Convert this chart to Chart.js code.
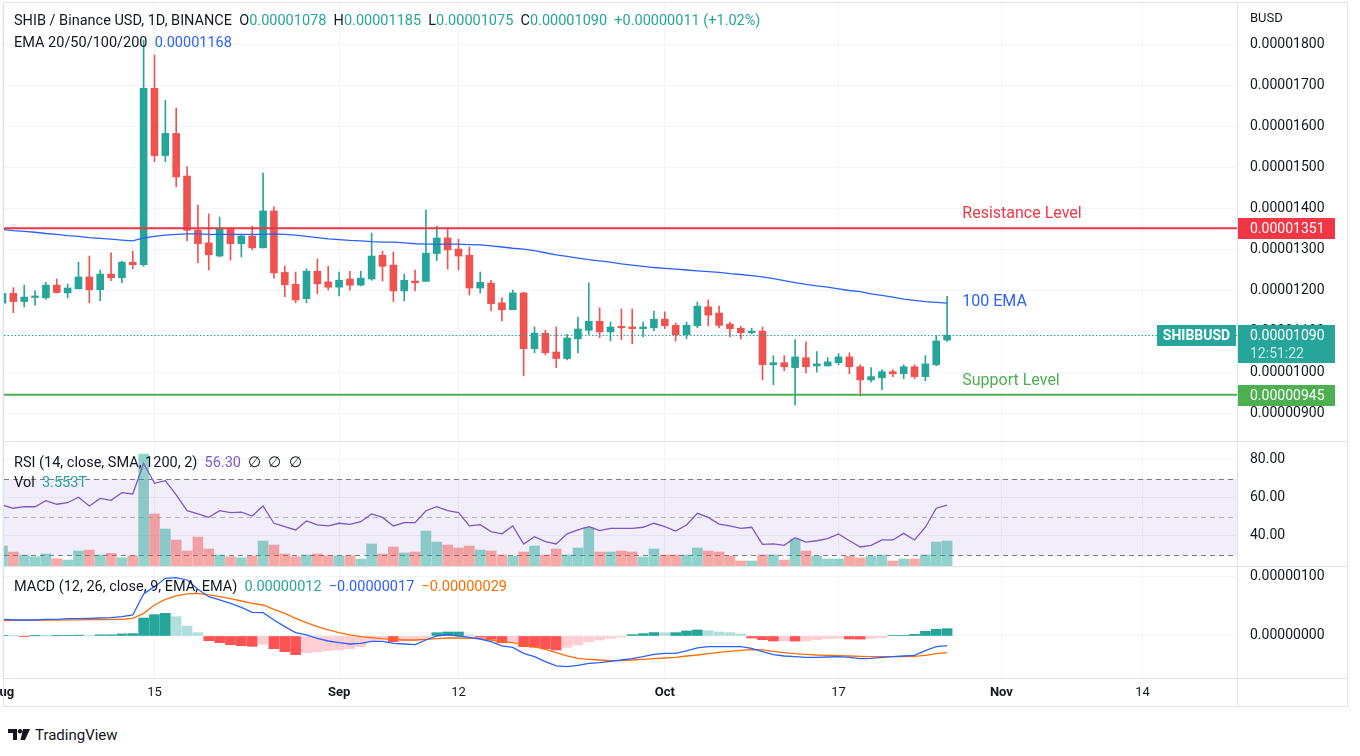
<!DOCTYPE html>
<html>
<head>
<meta charset="utf-8">
<title>SHIB / Binance USD</title>
<script src="https://cdn.jsdelivr.net/npm/chart.js@4.4.1/dist/chart.umd.min.js"></script>
<style>
    body { margin: 0; width: 1360px; height: 756px; background: #fff; overflow: hidden; position: relative;
           font-family: Roboto, "Noto Sans", sans-serif; color: #131722; }
    canvas { position: absolute; left: 0; }
    .sep { position: absolute; background: #e0e3eb; }
    .legend { position: absolute; left: 14px; font-size: 14.5px; line-height: 18px; white-space: pre; }
    .up { color: #26a69a; }
    .blue { color: #2962ff; }
    .orange { color: #ff6d00; }
    .purple { color: #7e57c2; }
    #logo { position: absolute; left: 8px; top: 726px; font-size: 15px; display: flex; align-items: center; gap: 5px; }
</style>
</head>
<body>
<canvas id="pricePane" width="1347" height="441" style="top:0"></canvas>
<canvas id="rsiPane" width="1347" height="125" style="top:441px"></canvas>
<canvas id="macdPane" width="1347" height="140" style="top:566px"></canvas>

<div class="sep" style="left:3px;top:2px;width:1345px;height:1px"></div>
<div class="sep" style="left:3px;top:441px;width:1345px;height:1px"></div>
<div class="sep" style="left:3px;top:566px;width:1345px;height:1px"></div>
<div class="sep" style="left:3px;top:678px;width:1345px;height:1px"></div>
<div class="sep" style="left:3px;top:706px;width:1345px;height:1px"></div>
<div class="sep" style="left:3px;top:2px;width:1px;height:705px"></div>
<div class="sep" style="left:1237px;top:2px;width:1px;height:705px"></div>
<div class="sep" style="left:1347px;top:2px;width:1px;height:705px"></div>

<div class="legend" style="top:12px">SHIB / Binance USD, 1D, BINANCE  O<span class="up">0.00001078</span>  H<span class="up">0.00001185</span>  L<span class="up">0.00001075</span>  C<span class="up">0.00001090</span>  <span class="up">+0.00000011 (+1.02%)</span></div>
<div class="legend" style="top:34px">EMA 20/50/100/200  <span class="blue">0.00001168</span></div>
<div class="legend" style="top:9px;left:1250px;font-size:13px">BUSD</div>
<div class="legend" style="top:454px">RSI (14, close, SMA, 1200, 2)  <span class="purple">56.30</span>  ∅  ∅  ∅</div>
<div class="legend" style="top:474px">Vol  <span class="up">3.553T</span></div>
<div class="legend" style="top:578px">MACD (12, 26, close, 9, EMA, EMA)  <span class="up">0.00000012</span>  <span class="blue">−0.00000017</span>  <span class="orange">−0.00000029</span></div>

<div id="logo">
    <svg width="22" height="12" viewBox="0 0 22 12"><path d="M0 0H9V11H5V4H0Z" fill="#131722"/><circle cx="12" cy="2.2" r="2.2" fill="#131722"/><path d="M15 0H22L17 11H12.5Z" fill="#131722"/></svg>
    <span>TradingView</span>
</div>

<script>
//SHIB / BUSD daily candles, Aug 1 .. Oct 27 (prices in 1e-8 BUSD)
var opens = [1168, 1192, 1172, 1182, 1181, 1212, 1193, 1203, 1232, 1201,
    1239, 1230, 1268, 1262, 1692, 1528, 1582, 1478, 1346, 1315,
    1283, 1350, 1313, 1332, 1303, 1393, 1243, 1214, 1179, 1246,
    1220, 1207, 1227, 1212, 1227, 1285, 1261, 1198, 1222, 1221,
    1289, 1327, 1300, 1285, 1205, 1217, 1169, 1152, 1193, 1057,
    1095, 1049, 1033, 1081, 1102, 1124, 1098, 1110, 1110, 1106,
    1108, 1129, 1114, 1091, 1113, 1159, 1144, 1117, 1107, 1096,
    1100, 1018, 1023, 1011, 1035, 1015, 1015, 1023, 1037, 1013,
    981, 986, 1001, 996, 1013, 989, 1018, 1078];
var highs = [1200, 1206, 1212, 1198, 1219, 1227, 1215, 1268, 1283, 1249,
    1291, 1270, 1295, 1810, 1773, 1663, 1644, 1501, 1407, 1386,
    1378, 1352, 1336, 1356, 1485, 1403, 1259, 1244, 1252, 1276,
    1258, 1244, 1246, 1246, 1339, 1295, 1293, 1239, 1249, 1395,
    1356, 1350, 1324, 1305, 1244, 1224, 1181, 1200, 1195, 1110,
    1102, 1110, 1092, 1134, 1217, 1157, 1122, 1154, 1154, 1122,
    1149, 1147, 1120, 1122, 1171, 1176, 1161, 1122, 1112, 1107,
    1110, 1040, 1040, 1079, 1074, 1050, 1035, 1045, 1047, 1018,
    1011, 1006, 1006, 1018, 1018, 1040, 1089, 1185];
var lows = [1160, 1145, 1159, 1163, 1178, 1193, 1181, 1203, 1169, 1174,
    1223, 1218, 1252, 1258, 1513, 1513, 1452, 1320, 1267, 1249,
    1281, 1273, 1281, 1298, 1303, 1229, 1184, 1169, 1169, 1191,
    1200, 1186, 1200, 1210, 1224, 1222, 1172, 1174, 1198, 1221,
    1272, 1251, 1249, 1188, 1193, 1150, 1125, 1152, 991, 1047,
    1042, 1011, 1030, 1047, 1092, 1084, 1076, 1079, 1069, 1086,
    1101, 1106, 1076, 1081, 1108, 1113, 1108, 1086, 1081, 1093,
    981, 969, 1003, 920, 998, 1000, 1015, 1018, 996, 942,
    976, 957, 989, 984, 984, 979, 1015, 1075];
var closes = [1192, 1172, 1183, 1183, 1212, 1194, 1205, 1232, 1201, 1239,
    1230, 1268, 1262, 1692, 1528, 1582, 1476, 1346, 1313, 1286,
    1349, 1313, 1332, 1303, 1393, 1242, 1213, 1176, 1246, 1215,
    1207, 1224, 1212, 1229, 1283, 1258, 1198, 1224, 1218, 1290,
    1327, 1298, 1283, 1205, 1219, 1167, 1152, 1193, 1057, 1095,
    1047, 1033, 1083, 1105, 1124, 1098, 1110, 1108, 1106, 1110,
    1129, 1113, 1091, 1114, 1161, 1139, 1114, 1106, 1096, 1100,
    1018, 1023, 1013, 1037, 1013, 1020, 1025, 1037, 1013, 981,
    989, 1001, 996, 1013, 989, 1020, 1076, 1090];
var ema100 = [1348, 1345, 1343, 1341, 1338, 1336, 1333, 1331, 1328, 1326,
    1324, 1322, 1320, 1327, 1331, 1334, 1336, 1337, 1337, 1336,
    1336, 1336, 1336, 1336, 1336, 1337, 1336, 1334, 1331, 1328,
    1325, 1323, 1321, 1320, 1318, 1317, 1317, 1315, 1313, 1312,
    1312, 1312, 1312, 1311, 1310, 1308, 1305, 1302, 1300, 1296,
    1291, 1286, 1282, 1278, 1274, 1271, 1268, 1264, 1261, 1258,
    1255, 1253, 1251, 1249, 1247, 1245, 1243, 1240, 1238, 1235,
    1232, 1228, 1223, 1218, 1214, 1210, 1207, 1203, 1199, 1196,
    1191, 1187, 1183, 1178, 1175, 1172, 1170, 1168];

//volume in trillions of SHIB
var volumes = [2.84, 1.99, 1.56, 1.32, 1.71, 1.04, 0.85, 2.13, 2.27, 1.56,
    1.80, 1.18, 1.46, 15.9, 7.39, 5.26, 3.69, 2.13, 4.12, 2.42,
    1.56, 1.32, 1.18, 1.46, 3.55, 2.98, 1.71, 1.32, 1.56, 1.71,
    1.46, 1.46, 1.46, 0.99, 3.13, 1.71, 2.70, 1.85, 1.99, 4.97,
    3.41, 2.98, 2.56, 2.84, 2.27, 2.13, 1.56, 1.42, 1.99, 2.84,
    1.56, 2.42, 1.56, 2.56, 5.50, 1.99, 1.99, 2.13, 1.99, 1.28,
    2.42, 1.56, 1.56, 1.56, 2.56, 2.13, 1.99, 1.42, 0.71, 0.71,
    1.56, 1.56, 0.85, 3.84, 2.13, 1.42, 0.99, 0.99, 1.42, 1.14,
    1.42, 1.56, 0.71, 0.99, 0.99, 1.56, 3.41, 3.553];
var rsi = [56.3, 54.6, 55.4, 55.4, 58.6, 56.7, 57.5, 60.4, 55.8, 59.8,
    58.8, 62.8, 62.1, 78.3, 67.7, 69.1, 61.6, 53.3, 51.6, 49.8,
    53.3, 52.3, 52.6, 50.5, 55.8, 46.7, 44.9, 43.2, 47.9, 45.8,
    45.3, 46.7, 46.1, 47.5, 51.6, 49.8, 45.3, 47.0, 47.0, 53.3,
    55.4, 53.3, 52.3, 45.3, 46.0, 42.3, 41.1, 45.3, 35.8, 39.6,
    37.0, 35.8, 41.1, 43.2, 44.9, 42.8, 44.0, 44.0, 44.0, 44.6,
    46.7, 44.9, 42.6, 45.8, 51.9, 49.8, 46.3, 45.3, 44.0, 44.6,
    35.6, 35.8, 35.1, 39.1, 36.8, 37.5, 38.6, 41.1, 37.5, 34.2,
    35.1, 37.9, 37.9, 41.4, 37.9, 44.6, 54.6, 56.3];

//MACD values in 1e-8 BUSD
var macdLine = [28.2, 27.1, 27.1, 27.1, 28.2, 28.2, 29.4, 29.4, 30.0, 30.5,
    31.1, 32.8, 35.6, 71.2, 83.6, 97.7, 98.9, 94.9, 79.1, 66.6,
    61.0, 55.4, 48.6, 40.1, 39.5, 27.1, 15.8, 5.6, 1.7, -3.9,
    -8.5, -11.3, -13.6, -12.4, -9.0, -9.0, -12.4, -13.6, -14.7, -6.8,
    0.0, 2.3, 0.0, -2.3, -5.1, -9.6, -16.9, -19.2, -29.4, -35.0,
    -43.5, -50.8, -52.0, -49.7, -46.3, -45.2, -42.9, -40.7, -38.4, -35.0,
    -31.1, -29.4, -29.4, -25.4, -20.3, -18.1, -18.1, -18.1, -18.1, -20.9,
    -26.6, -31.6, -33.9, -35.0, -36.2, -36.2, -35.6, -35.0, -36.2, -38.4,
    -37.9, -36.2, -35.0, -33.9, -32.8, -24.9, -18.1, -16.4];
var signalLine = [26.0, 26.3, 26.5, 26.6, 26.8, 27.0, 27.2, 27.4, 27.6, 27.8,
    28.0, 28.3, 30.0, 38.4, 52.5, 62.1, 67.8, 71.2, 72.3, 69.5,
    66.6, 63.3, 59.3, 55.4, 52.5, 45.2, 38.4, 30.0, 22.6, 15.8,
    10.2, 5.6, 1.7, -1.1, -2.8, -4.5, -5.6, -6.8, -6.8, -5.6,
    -4.5, -3.4, -3.4, -3.9, -4.5, -6.8, -9.6, -11.3, -14.7, -18.1,
    -22.6, -28.2, -33.9, -37.9, -39.5, -40.7, -41.8, -41.8, -40.7, -39.5,
    -38.4, -37.3, -36.2, -33.9, -32.2, -29.9, -27.7, -26.0, -24.3, -23.2,
    -23.7, -26.0, -28.2, -29.9, -31.1, -32.2, -32.8, -33.3, -33.9, -34.5,
    -35.0, -35.0, -35.0, -35.0, -34.5, -32.8, -29.9, -28.2];
var macdHist = [0.5, 0.3, -0.3, 0.3, 0.2, 0.3, 0.4, 1.5, 0.6, 2.0,
    2.0, 3.5, 4.0, 30.5, 36.2, 38.4, 32.8, 16.9, 5.6, -7.9,
    -11.3, -14.7, -16.4, -17.5, -13.6, -21.5, -26.6, -31.6, -28.2, -27.1,
    -24.9, -23.7, -21.5, -18.1, -9.6, -6.8, -9.6, -8.5, -7.9, -4.0,
    5.6, 6.8, 6.8, 1.1, -2.3, -5.6, -11.3, -9.6, -18.1, -19.2,
    -21.5, -23.7, -19.2, -15.3, -9.6, -6.8, -4.0, -1.7, 2.3, 4.0,
    5.8, 5.5, 5.7, 8.5, 10.2, 9.0, 6.8, 5.6, 3.4, -3.4,
    -6.2, -8.5, -8.3, -8.6, -8.4, -6.2, -4.5, -3.4, -5.1, -5.3,
    -4.0, -2.8, 0.6, 0.6, 2.8, 7.9, 11.3, 12.4];

var xTickIdx = [0, 14, 31, 42, 61, 77, 92, 105];
var xTickText = ["Aug", "15", "Sep", "12", "Oct", "17", "Nov", "14"];
var monthTicks = [0, 31, 61, 92];
var priceTicks = [900, 1000, 1100, 1200, 1300, 1400, 1500, 1600, 1700, 1800];
var rsiTicks = [40, 60, 80];
var rsiLevels = [70, 50, 30];
var macdTicks = [0, 100];
var resistance = 1351;
var support = 945;
var lastClose = 1090;

var UP = "#26a69a";
var DOWN = "#ef5350";
var GRID = "#f0f3fa";

Chart.defaults.font.family = "Roboto, 'Noto Sans', sans-serif";
Chart.defaults.color = "#131722";

function fmt8(v) {
    return (v / 1e8).toFixed(8);
}

function xAxis(showLabels) {
    return {
        type: "linear",
        offset: false,
        min: 0.14,
        max: 113.7,
        afterBuildTicks: function (s) {
            s.ticks = xTickIdx.map(function (v) { return { value: v }; });
        },
        afterFit: function (s) {
            s.paddingLeft = 0;
            s.paddingRight = 0;
            s.height = showLabels ? 28 : 0;
        },
        grid: { color: GRID, drawTicks: false, offset: false },
        border: { display: false },
        ticks: {
            display: showLabels,
            autoSkip: false,
            maxRotation: 0,
            padding: 7,
            color: "#131722",
            callback: function (v, i) { return xTickText[i]; },
            font: function (c) {
                var bold = c.tick && monthTicks.indexOf(c.tick.value) >= 0;
                return { size: 13, weight: bold ? "bold" : "normal" };
            }
        }
    };
}

function rightAxis(min, max, ticks, cb) {
    return {
        position: "right",
        min: min,
        max: max,
        afterBuildTicks: function (s) {
            s.ticks = ticks.map(function (v) { return { value: v }; });
        },
        afterFit: function (s) {
            s.width = 110;
            s.paddingTop = 0;
            s.paddingBottom = 0;
        },
        grid: { color: GRID, drawTicks: false },
        border: { display: false },
        ticks: { padding: 13, color: "#131722", font: { size: 14 }, callback: cb }
    };
}

var baseOptions = {
    responsive: false,
    animation: false,
    devicePixelRatio: 1,
    events: [],
    plugins: { legend: { display: false }, tooltip: { enabled: false } }
};

function dirColor(i, up, down) {
    return closes[i] >= opens[i] ? up : down;
}

//price pane

var wicks = [], bodies = [], candleColors = [];
for (var i = 0; i < opens.length; i++) {
    wicks.push({ x: i, y: [lows[i], highs[i]] });
    bodies.push({ x: i, y: [opens[i], closes[i]] });
    candleColors.push(dirColor(i, UP, DOWN));
}

function drawTag(ctx, x, y, w, h, fill, lines, colors) {
    ctx.fillStyle = fill;
    ctx.fillRect(x, y, w, h);
    ctx.font = "14px Roboto, sans-serif";
    ctx.textAlign = "left";
    ctx.textBaseline = "middle";
    for (var k = 0; k < lines.length; k++) {
        ctx.fillStyle = colors[k];
        ctx.fillText(lines[k], x + 13, y + 11 + k * 18);
    }
}

var levelsPlugin = {
    id: "levels",
    afterDatasetsDraw: function (chart) {
        var ctx = chart.ctx, a = chart.chartArea, y = chart.scales.y, x = chart.scales.x;
        ctx.save();
        //last price dotted line
        var yl = Math.round(y.getPixelForValue(lastClose)) + 0.5;
        ctx.strokeStyle = UP;
        ctx.lineWidth = 1;
        ctx.setLineDash([1.5, 2]);
        ctx.beginPath();
        ctx.moveTo(a.left, yl);
        ctx.lineTo(a.right, yl);
        ctx.stroke();
        ctx.setLineDash([]);
        //resistance / support
        ctx.lineWidth = 2;
        ctx.strokeStyle = "#f23645";
        var yr = y.getPixelForValue(resistance);
        ctx.beginPath(); ctx.moveTo(a.left, yr); ctx.lineTo(a.right, yr); ctx.stroke();
        ctx.strokeStyle = "#4caf50";
        var ys = y.getPixelForValue(support);
        ctx.beginPath(); ctx.moveTo(a.left, ys); ctx.lineTo(a.right, ys); ctx.stroke();
        //notes
        ctx.font = "16px Roboto, sans-serif";
        ctx.textBaseline = "middle";
        var tx = x.getPixelForValue(88.4);
        ctx.fillStyle = "#f23645";
        ctx.fillText("Resistance Level", tx, yr - 14);
        ctx.fillStyle = "#2962ff";
        ctx.fillText("100 EMA", tx, y.getPixelForValue(ema100[ema100.length - 1]) - 1);
        ctx.fillStyle = "#4caf50";
        ctx.fillText("Support Level", tx, ys - 14);
        ctx.restore();
    },
    afterDraw: function (chart) {
        var ctx = chart.ctx, a = chart.chartArea, y = chart.scales.y;
        ctx.save();
        drawTag(ctx, a.right, Math.round(y.getPixelForValue(resistance)) - 10, 98, 21, "#f23645", [fmt8(resistance)], ["#fff"]);
        drawTag(ctx, a.right, Math.round(y.getPixelForValue(support)) - 10, 98, 21, "#4caf50", [fmt8(support)], ["#fff"]);
        var yl = Math.round(y.getPixelForValue(lastClose)) - 10;
        drawTag(ctx, a.right, yl, 98, 38, UP, [fmt8(lastClose), "12:51:22"], ["#fff", "rgba(255,255,255,0.75)"]);
        ctx.fillStyle = UP;
        ctx.fillRect(a.right - 80, yl, 79, 21);
        ctx.fillStyle = "#fff";
        ctx.font = "bold 14px Roboto, sans-serif";
        ctx.textAlign = "center";
        ctx.textBaseline = "middle";
        ctx.fillText("SHIBBUSD", a.right - 40.5, yl + 11);
        ctx.restore();
    }
};

var priceChart = new Chart(document.getElementById("pricePane"), {
    type: "bar",
    data: {
        datasets: [{
                type: "line",
                data: ema100.map(function (v, i) { return { x: i, y: v }; }),
                borderColor: "#2962ff",
                borderWidth: 1.3,
                pointRadius: 0,
                order: 0
            },
            {
                data: bodies,
                backgroundColor: candleColors,
                barThickness: 7,
                minBarLength: 1.5,
                grouped: false,
                order: 1
            },
            {
                data: wicks,
                backgroundColor: candleColors,
                barThickness: 1,
                grouped: false,
                order: 2
            }
        ]
    },
    options: Object.assign({}, baseOptions, {
        layout: { padding: { left: 4, top: 3 } },
        scales: {
            x: xAxis(false),
            y: rightAxis(832, 1900, priceTicks, fmt8)
        }
    }),
    plugins: [levelsPlugin]
});

//rsi + volume pane

var rsiPlugin = {
    id: "rsiBand",
    beforeDatasetsDraw: function (chart) {
        var ctx = chart.ctx, a = chart.chartArea, y = chart.scales.y;
        var top = y.getPixelForValue(rsiLevels[0]), bot = y.getPixelForValue(rsiLevels[2]);
        ctx.save();
        ctx.fillStyle = "rgba(126,87,194,0.1)";
        ctx.fillRect(a.left, top, a.right - a.left, bot - top);
        ctx.lineWidth = 1;
        ctx.setLineDash([5, 4]);
        rsiLevels.forEach(function (lv, k) {
            var py = Math.round(y.getPixelForValue(lv)) + 0.5;
            ctx.strokeStyle = k == 1 ? "rgba(120,123,134,0.5)" : "#787b86";
            ctx.beginPath();
            ctx.moveTo(a.left, py);
            ctx.lineTo(a.right, py);
            ctx.stroke();
        });
        ctx.restore();
    }
};

var rsiChart = new Chart(document.getElementById("rsiPane"), {
    type: "bar",
    data: {
        datasets: [{
                type: "line",
                data: rsi.map(function (v, i) { return { x: i, y: v }; }),
                borderColor: "#7e57c2",
                borderWidth: 1.3,
                pointRadius: 0,
                order: 0
            },
            {
                data: volumes.map(function (v, i) { return { x: i, y: v }; }),
                yAxisID: "yv",
                backgroundColor: volumes.map(function (v, i) {
                    return dirColor(i, "rgba(38,166,154,0.5)", "rgba(239,83,80,0.5)");
                }),
                barThickness: 10,
                grouped: false,
                order: 1
            }
        ]
    },
    options: Object.assign({}, baseOptions, {
        layout: { padding: { left: 4 } },
        scales: {
            x: xAxis(false),
            y: rightAxis(24.2, 90, rsiTicks, function (v) { return v.toFixed(2); }),
            yv: { display: false, min: 0, max: 17.76 }
        }
    }),
    plugins: [rsiPlugin]
});

//macd pane

var histColors = macdHist.map(function (v, i) {
    var prev = i > 0 ? macdHist[i - 1] : 0;
    if (v >= 0) return v >= prev ? "#26a69a" : "#b2dfdb";
    return v <= prev ? "#ff5252" : "#ffcdd2";
});

var macdChart = new Chart(document.getElementById("macdPane"), {
    type: "bar",
    data: {
        datasets: [{
                type: "line",
                data: macdLine.map(function (v, i) { return { x: i, y: v }; }),
                borderColor: "#2962ff",
                borderWidth: 1.3,
                pointRadius: 0,
                order: 0
            },
            {
                type: "line",
                data: signalLine.map(function (v, i) { return { x: i, y: v }; }),
                borderColor: "#ff6d00",
                borderWidth: 1.3,
                pointRadius: 0,
                order: 1
            },
            {
                data: macdHist.map(function (v, i) { return { x: i, y: v }; }),
                backgroundColor: histColors,
                barThickness: 10,
                grouped: false,
                order: 2
            }
        ]
    },
    options: Object.assign({}, baseOptions, {
        layout: { padding: { left: 4 } },
        scales: {
            x: xAxis(true),
            y: rightAxis(-71.2, 118.6, macdTicks, fmt8)
        }
    })
});
</script>
</body>
</html>
